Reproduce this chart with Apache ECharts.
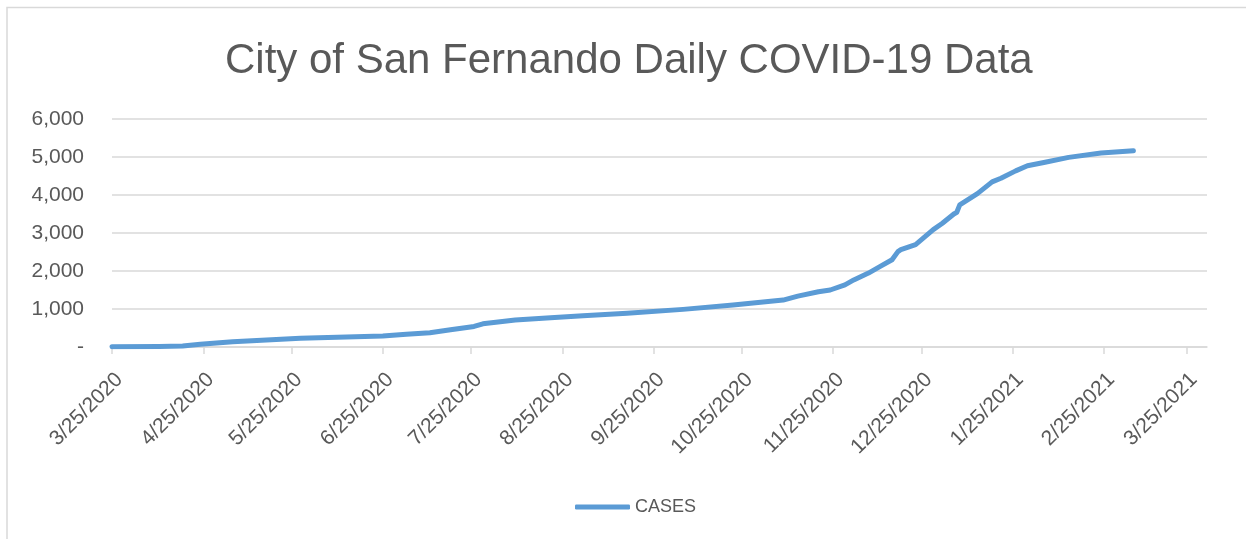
<!DOCTYPE html>
<html>
<head>
<meta charset="utf-8">
<script src="https://cdn.jsdelivr.net/npm/echarts@6.0.0/dist/echarts.min.js"></script>
<style>
html,body{margin:0;padding:0;background:#fff;}
#chart{width:1252px;height:539px;}
</style>
</head>
<body>
<div id="chart"></div>
<script>
// ---- data ----
const dates = [
  '2020-03-25','2020-04-10','2020-04-18','2020-04-24','2020-05-05','2020-05-28',
  '2020-06-25','2020-07-03','2020-07-11','2020-07-18','2020-07-26','2020-07-29',
  '2020-08-09','2020-08-21','2020-09-01','2020-09-16','2020-10-05','2020-10-22',
  '2020-11-08','2020-11-13','2020-11-20','2020-11-24','2020-11-29','2020-12-02',
  '2020-12-07','2020-12-11','2020-12-15','2020-12-17','2020-12-18','2020-12-23',
  '2020-12-25','2020-12-29','2021-01-01','2021-01-05','2021-01-06','2021-01-07',
  '2021-01-13','2021-01-18','2021-01-21','2021-01-26','2021-01-30','2021-02-05',
  '2021-02-13','2021-02-24','2021-03-07'
];
const cases = [
  5, 15, 25, 70, 140, 230,
  290, 335, 375, 455, 540, 610,
  710, 770, 825, 885, 990, 1105,
  1235, 1340, 1455, 1500, 1635, 1765,
  1945, 2120, 2295, 2510, 2560, 2695,
  2825, 3090, 3250, 3500, 3545, 3740,
  4035, 4345, 4440, 4635, 4770, 4860,
  4990, 5105, 5165
];
const tickDates = [
  '2020-03-25','2020-04-25','2020-05-25','2020-06-25','2020-07-25','2020-08-25',
  '2020-09-25','2020-10-25','2020-11-25','2020-12-25','2021-01-25','2021-02-25','2021-03-25'
];
const axisStart = '2020-03-25';
const axisEnd = '2021-04-01';
const yTicks = [0, 1000, 2000, 3000, 4000, 5000, 6000];
const titleText = 'City of San Fernando Daily COVID-19 Data';
const seriesName = 'CASES';

// day-number helpers (UTC to avoid DST drift)
function toDay(s){ const p = s.split('-').map(Number); return Math.round(Date.UTC(p[0], p[1]-1, p[2]) / 86400000); }
function fmtDay(v){ const d = new Date(Math.round(v) * 86400000); return (d.getUTCMonth()+1)+'/'+d.getUTCDate()+'/'+d.getUTCFullYear(); }

const seriesData = dates.map((d,i)=>[toDay(d), cases[i]]);
const tickVals = tickDates.map(toDay);

const chart = echarts.init(document.getElementById('chart'), null, {renderer:'canvas'});
const txt = '#595959';
const gridc = '#D9D9D9';
chart.setOption({
  animation:false,
  backgroundColor:'#fff',
  title:{
    text:titleText, left:220, top:35,
    textStyle:{fontFamily:'Liberation Sans', fontSize:42, fontWeight:'normal', color:txt}
  },
  graphic:[{
    type:'polyline', shape:{points:[[7,560],[7,7.5],[1246,7.5]]},
    style:{fill:'none', stroke:gridc, lineWidth:1.5}, silent:true
  }],
  legend:{
    left:570, top:493, itemWidth:55, itemHeight:5, icon:'roundRect',
    textStyle:{fontFamily:'Liberation Sans', fontSize:18, color:txt},
    data:[seriesName]
  },
  grid:{left:112, right:45, top:119, bottom:192, containLabel:false},
  xAxis:{
    type:'value', min:toDay(axisStart), max:toDay(axisEnd),
    axisLine:{show:true, onZero:false, lineStyle:{color:gridc, width:1.5}},
    axisTick:{show:true, customValues:tickVals, length:7, lineStyle:{color:gridc, width:1.5}},
    axisLabel:{customValues:tickVals, rotate:45, margin:22, verticalAlign:'top',
      fontFamily:'Liberation Sans', fontSize:21, color:txt,
      formatter:function(v){ return fmtDay(v); }},
    splitLine:{show:false}
  },
  yAxis:{
    type:'value', min:yTicks[0], max:yTicks[yTicks.length-1], interval:1000,
    axisLine:{show:false}, axisTick:{show:false},
    axisLabel:{margin:28, fontFamily:'Liberation Sans', fontSize:21, color:txt,
      formatter:function(v){ return v===0 ? '-' : v.toLocaleString('en-US'); }},
    splitLine:{show:true, lineStyle:{color:gridc, width:1.5}}
  },
  series:[{
    name:seriesName, type:'line', data:seriesData, showSymbol:false, symbol:'none',
    lineStyle:{color:'#5B9BD5', width:5, cap:'round', join:'round'},
    itemStyle:{color:'#5B9BD5'}
  }]
});
</script>
</body>
</html>
